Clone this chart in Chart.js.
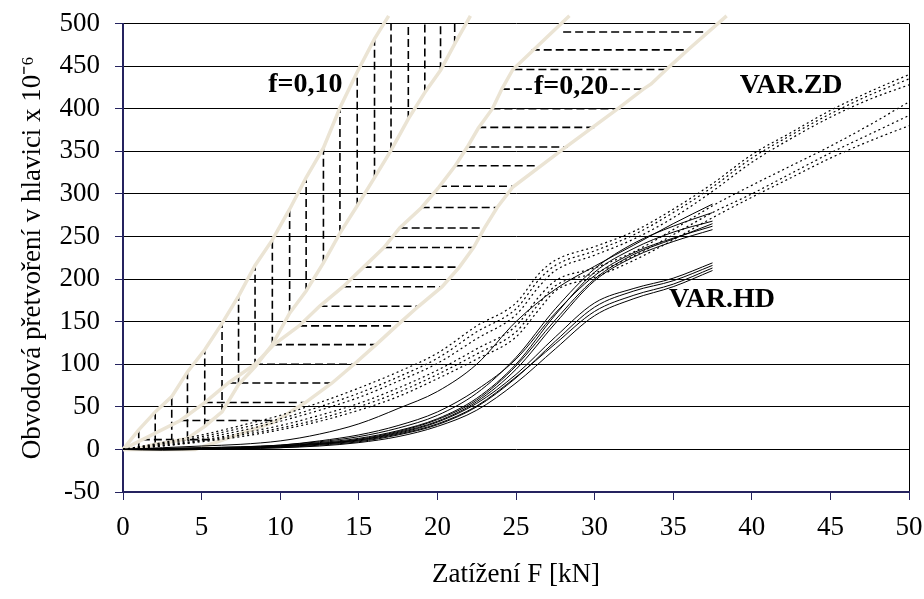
<!DOCTYPE html>
<html lang="cs">
<head>
<meta charset="UTF-8">
<title>Obvodová přetvoření v hlavici</title>
<script src="https://cdn.jsdelivr.net/npm/chart.js@4.4.1/dist/chart.umd.min.js"></script>
<style>
    html, body { margin: 0; padding: 0; background: #fff; }
    #chart { display: block; }
</style>
</head>
<body>
<canvas id="chart" width="924" height="599"></canvas>
<script>
    // load steps [kN] for the measured curves
    const loadHD = [0, 2.5, 5, 7.5, 10, 12.5, 15, 17.5, 20, 22.5, 25, 27.5, 30, 32.5, 35, 37.5];
    const loadZD = [0, 2.5, 5, 7.5, 10, 12.5, 15, 17.5, 20, 22.5, 25, 26.5, 27.5, 30, 32.5, 35, 37.5, 40, 42.5, 45, 47.5, 50];

    // VAR.HD - solid curves
    const hd1 = [0, 2, 4, 6, 10, 18, 30, 48, 68, 100, 150, 188, 215, 240, 265, 288];
    const hd2 = [0, 1, 2, 3, 5, 9, 15, 25, 40, 66, 108, 165, 212, 242, 262, 278];
    const hd3 = [0, 0, 1, 2, 4, 8, 13, 22, 36, 60, 100, 158, 208, 236, 255, 268];
    const hd4 = [0, 1, 2, 3, 5, 10, 17, 28, 44, 70, 106, 160, 204, 231, 248, 262];
    const hd5 = [0, 0, 0, 1, 3, 6, 11, 20, 33, 56, 94, 148, 198, 226, 244, 258];
    const hd6 = [0, 1, 1, 2, 4, 7, 12, 21, 35, 58, 98, 152, 200, 229, 247, 265];
    const hd7 = [0, 0, 1, 2, 4, 7, 11, 19, 32, 54, 88, 132, 172, 189, 201, 219];
    const hd8 = [0, 0, 0, 1, 2, 5, 9, 17, 29, 50, 84, 127, 167, 186, 198, 216];
    const hd9 = [0, -1, 0, 1, 3, 6, 10, 18, 30, 51, 85, 124, 162, 181, 194, 213];
    const hd10 = [0, 0, 0, 1, 2, 4, 8, 15, 27, 46, 78, 118, 157, 177, 191, 210];

    // VAR.ZD - dotted curves
    const zd1 = [0, 8, 17, 28, 40, 55, 72, 91, 113, 145, 172, 207, 222, 238, 256, 282, 312, 346, 372, 398, 420, 440];
    const zd2 = [0, 7, 15, 25, 36, 50, 66, 85, 107, 138, 165, 200, 216, 233, 252, 278, 308, 342, 369, 394, 416, 435];
    const zd3 = [0, 6, 13, 22, 33, 46, 61, 80, 101, 130, 158, 192, 210, 228, 247, 272, 303, 337, 365, 390, 411, 428];
    const zd4 = [0, 5, 11, 19, 28, 40, 54, 72, 93, 118, 145, 180, 198, 213, 232, 258, 286, 310, 333, 356, 381, 408];
    const zd5 = [0, 4, 10, 17, 25, 36, 50, 67, 88, 112, 138, 172, 192, 207, 227, 252, 278, 300, 324, 348, 370, 392];
    const zd6 = [0, 4, 9, 15, 23, 33, 46, 62, 83, 106, 132, 165, 186, 202, 222, 246, 272, 296, 319, 342, 362, 380];

    // boundary lines of the f=0,10 and f=0,20 bands
    const b1X = [0, 1.0, 2.05, 3.1, 4.1, 5.2, 6.3, 7.35, 8.4, 9.5, 10.6, 11.65, 12.75, 13.8, 14.9, 16.0, 16.9];
    const b1Y = [0, 23, 44, 62, 91, 117, 148, 180, 216, 246, 282, 319, 354, 401, 443, 482, 509];
    const b2X = [0, 1.0, 2.05, 3.1, 4.1, 5.2, 6.3, 7.35, 8.4, 9.5, 10.6, 11.65, 12.75, 13.8, 14.9, 16.0, 17.05, 18.15, 19.2, 20.2, 21.1, 22.1];
    const b2Y = [0, 1, 6, 9, 13, 27, 44, 76, 97, 123, 160, 186, 219, 254, 286, 319, 351, 388, 419, 445, 476, 509];
    const b3X = [0, 3.65, 5.2, 6.7, 8.4, 9.6, 11.2, 12.5, 14.0, 15.3, 16.6, 17.6, 19.0, 20.1, 21.1, 21.9, 22.6, 23.5, 24.1, 24.8, 28.4];
    const b3Y = [0, 34, 55, 78, 100, 123, 145, 168, 191, 214, 237, 260, 284, 308, 332, 355, 377, 400, 423, 446, 509];
    const b4X = [0, 4.6, 9.6, 11.6, 13.3, 14.7, 16.1, 17.4, 18.8, 20.3, 21.4, 22.3, 23.0, 23.8, 24.8, 28.1, 31.4, 33.1, 33.6, 34.8, 36.0, 38.4];
    const b4Y = [0, 0, 32, 55, 78, 100, 123, 145, 168, 191, 214, 237, 260, 284, 308, 354, 399, 423, 429, 450, 470, 509];

    // vertical hatching f=0,10
    const hatch10X = [1.0, 2.05, 3.1, 4.1, 5.2, 6.3, 7.35, 8.4, 9.5, 10.6, 11.65, 12.75, 13.8, 14.9, 16.0, 17.05, 18.15, 19.2, 20.2, 21.1];
    const hatch10Low = [-1, 7, 9, 12, 27, 44, 76, 97, 123, 160, 186, 219, 254, 286, 319, 351, 388, 419, 445, 476];
    const hatch10High = [23, 44, 62, 91, 117, 148, 180, 216, 246, 282, 319, 354, 401, 443, 482, 500, 500, 500, 500, 500];

    // horizontal hatching f=0,20
    const hatch20Y = [11.5, 34, 55, 78, 100, 123, 145, 168, 191, 214, 237, 260, 284, 309, 333, 355, 378, 400, 423, 446, 469, 490];
    const hatch20Left = [1.2, 3.65, 5.2, 6.7, 8.4, 9.6, 11.2, 12.5, 14.0, 15.3, 16.6, 17.6, 19.0, 20.1, 21.1, 21.9, 22.6, 23.5, 24.1, 24.9, 26.0, 28.0];
    const hatch20Right = [5.8, 9.6, 11.6, 13.3, 14.7, 16.1, 17.4, 18.8, 20.3, 21.4, 22.3, 23.0, 23.8, 24.8, 26.4, 28.3, 30.0, 31.7, 33.1, 34.6, 35.9, 37.1];

    // text notes inside the plot (data coordinates)
    const noteText = ['f=0,10', 'f=0,20', 'VAR.ZD', 'VAR.HD'];
    const noteX = [11.6, 28.5, 42.5, 38.1];
    const noteY = [428, 426, 427, 176];
    const noteBox = [false, true, false, false];

    const serif = '"Liberation Serif", "Times New Roman", serif';
    const axisColor = '#25235f';
    const beige = '#ebe4d4';

    const pts = (xs, ys) => xs.map((x, i) => ({ x: x, y: ys[i] }));

    const datasets = [];

    [hd1, hd2, hd3, hd4, hd5, hd6, hd7, hd8, hd9, hd10].forEach(s => {
        datasets.push({
            data: pts(loadHD, s),
            borderColor: '#000',
            borderWidth: 1,
            cubicInterpolationMode: 'monotone',
            order: 1
        });
    });

    [zd1, zd2, zd3, zd4, zd5, zd6].forEach(s => {
        datasets.push({
            data: pts(loadZD, s),
            borderColor: '#000',
            borderWidth: 1.2,
            borderDash: [2, 3],
            cubicInterpolationMode: 'monotone',
            order: 1
        });
    });

    [[b1X, b1Y], [b2X, b2Y], [b3X, b3Y], [b4X, b4Y]].forEach(b => {
        datasets.push({
            data: pts(b[0], b[1]),
            borderColor: beige,
            borderWidth: 3.5,
            clip: false,
            order: 2
        });
    });

    hatch10X.forEach((x, i) => {
        datasets.push({
            data: [{ x: x, y: hatch10Low[i] }, { x: x, y: hatch10High[i] }],
            borderColor: '#000',
            borderWidth: 1.6,
            borderDash: [8, 4],
            order: 3
        });
    });

    hatch20Y.forEach((y, i) => {
        datasets.push({
            data: [{ x: hatch20Left[i], y: y }, { x: hatch20Right[i], y: y }],
            borderColor: '#000',
            borderWidth: 1.6,
            borderDash: [8, 4],
            order: 3
        });
    });

    const notesPlugin = {
        id: 'notes',
        afterDatasetsDraw(chart) {
            const { ctx, scales: { x, y } } = chart;
            ctx.save();
            ctx.font = 'bold 28px ' + serif;
            ctx.textAlign = 'center';
            ctx.textBaseline = 'middle';
            noteText.forEach((t, i) => {
                const px = x.getPixelForValue(noteX[i]);
                const py = y.getPixelForValue(noteY[i]);
                if (noteBox[i]) {
                    const w = ctx.measureText(t).width;
                    ctx.fillStyle = '#fff';
                    ctx.fillRect(px - w / 2 - 2, py - 12, w + 4, 24);
                }
                ctx.fillStyle = '#000';
                ctx.fillText(t, px, py);
            });
            ctx.restore();
        }
    };

    new Chart(document.getElementById('chart'), {
        type: 'line',
        data: { datasets: datasets },
        plugins: [notesPlugin],
        options: {
            responsive: false,
            animation: false,
            devicePixelRatio: 1,
            layout: { padding: { top: 23.5, right: 15, bottom: 0, left: 0 } },
            plugins: {
                legend: { display: false },
                tooltip: { enabled: false }
            },
            elements: {
                point: { radius: 0 },
                line: { fill: false }
            },
            scales: {
                x: {
                    type: 'linear',
                    min: 0,
                    max: 50,
                    ticks: { stepSize: 5, color: '#000', font: { family: serif, size: 27 }, padding: 12, maxRotation: 0, autoSkip: false },
                    grid: {
                        color: c => (c.tick && c.tick.value === 50) ? '#000' : 'rgba(0,0,0,0)',
                        tickColor: axisColor,
                        tickLength: 8,
                        lineWidth: 1
                    },
                    border: { color: axisColor, width: 2 },
                    title: { display: true, text: 'Zatížení F [kN]', color: '#000', font: { family: serif, size: 27 }, padding: { top: 0, bottom: 8 } },
                    afterFit: s => { s.height = 107; s.paddingLeft = 0; s.paddingRight = 0; }
                },
                y: {
                    min: -50,
                    max: 500,
                    ticks: { stepSize: 50, color: '#000', font: { family: serif, size: 27 }, padding: 15 },
                    grid: { color: '#000', tickColor: axisColor, tickLength: 8, lineWidth: 1 },
                    border: { color: axisColor, width: 2 },
                    title: { display: true, text: 'Obvodová přetvoření v hlavici x 10⁻⁶', color: '#000', font: { family: serif, size: 27 }, padding: { top: 17, bottom: 0 } },
                    afterFit: s => { s.width = 123; s.paddingTop = 0; s.paddingBottom = 0; }
                }
            }
        }
    });
</script>
</body>
</html>
